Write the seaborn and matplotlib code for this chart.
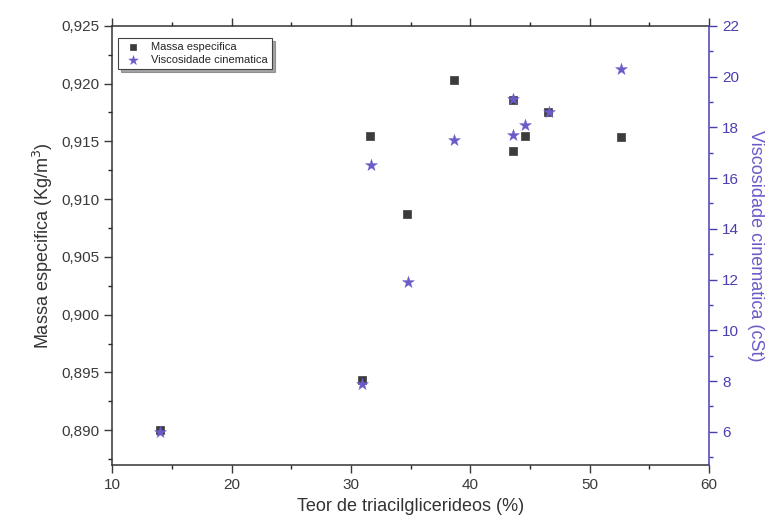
import matplotlib
matplotlib.use("Agg")
import matplotlib.pyplot as plt
import numpy as np
import pandas as pd
import seaborn as sns
from matplotlib.ticker import MultipleLocator, FuncFormatter

# data
teor_massa = [14.0, 30.9, 31.6, 34.7, 38.6, 43.6, 43.6, 44.6, 46.5, 52.6]
massa = [0.8900, 0.8943, 0.9155, 0.9087, 0.9203, 0.9186, 0.9142, 0.9155, 0.9175, 0.9154]

teor_visc = [14.0, 30.9, 31.7, 34.8, 38.6, 43.6, 43.6, 44.6, 46.6, 52.6]
visc = [6.0, 7.9, 16.5, 11.9, 17.5, 19.1, 17.7, 18.1, 18.6, 20.3]

sq_color = "#3c3c3c"
st_color = "#6a5cc8"
ax_color = "#4a3fb0"

sns.set_style("ticks")
plt.rcParams['font.family'] = ['Liberation Sans', 'DejaVu Sans']

df_m = pd.DataFrame({'teor': teor_massa, 'massa': massa})
df_v = pd.DataFrame({'teor': teor_visc, 'visc': visc})

fig = plt.figure(figsize=(7.75, 5.27), dpi=100)
ax1 = fig.add_axes([0.145, 0.118, 0.770, 0.833])
ax2 = ax1.twinx()

sns.scatterplot(data=df_m, x='teor', y='massa', marker='s', color=sq_color,
                s=38, edgecolor=sq_color, linewidth=0.5, ax=ax1,
                label='Massa especifica', zorder=3)
sns.scatterplot(data=df_v, x='teor', y='visc', marker='*', color=st_color,
                s=80, edgecolor=st_color, linewidth=0.3, ax=ax2,
                label='Viscosidade cinematica', zorder=4)

ax1.set_xlim(10, 60)
ax1.set_ylim(0.887, 0.925)
ax2.set_ylim(4.7, 22)

ax1.xaxis.set_major_locator(MultipleLocator(10))
ax1.xaxis.set_minor_locator(MultipleLocator(5))
ax1.yaxis.set_major_locator(MultipleLocator(0.005))
ax1.yaxis.set_minor_locator(MultipleLocator(0.0025))
ax1.yaxis.set_major_formatter(FuncFormatter(lambda v, p: f"{v:.3f}".replace('.', ',')))
ax2.yaxis.set_major_locator(MultipleLocator(2))
ax2.yaxis.set_minor_locator(MultipleLocator(1))

ax1.tick_params(axis='both', which='major', direction='out', length=6, width=1,
                labelsize=11, colors='#3a3a3a', top=True)
ax1.tick_params(axis='both', which='minor', direction='out', length=3, width=1,
                top=True)
ax2.tick_params(axis='y', which='major', direction='out', length=6, width=1,
                labelsize=11, colors=ax_color)
ax2.tick_params(axis='y', which='minor', direction='out', length=3, width=1,
                colors=ax_color)

for sp in ['left', 'bottom', 'top']:
    ax1.spines[sp].set_color('#333333')
    ax1.spines[sp].set_linewidth(1.1)
ax2.spines['right'].set_color(ax_color)
ax2.spines['right'].set_linewidth(1.1)
ax1.spines['right'].set_visible(False)
for sp in ['left', 'bottom', 'top']:
    ax2.spines[sp].set_visible(False)

ax1.set_xlabel('Teor de triacilglicerideos (%)', fontsize=13, color='#333333')
ax1.set_ylabel('Massa especifica (Kg/m$^3$)', fontsize=13, color='#333333')
ax2.set_ylabel('Viscosidade cinematica (cSt)', fontsize=13, color=st_color,
               rotation=270, labelpad=18)

h1, l1 = ax1.get_legend_handles_labels()
h2, l2 = ax2.get_legend_handles_labels()
ax1.get_legend().remove()
ax2.get_legend().remove()
leg = ax2.legend(h1 + h2, l1 + l2, loc='upper left', bbox_to_anchor=(0.0, 0.985),
                 fontsize=8, frameon=True, fancybox=False, shadow=True,
                 edgecolor='#444444', borderpad=0.4, handletextpad=0.6,
                 labelspacing=0.2, markerscale=0.8)
leg.get_frame().set_linewidth(0.8)

fig.savefig('out.png', dpi=100)
